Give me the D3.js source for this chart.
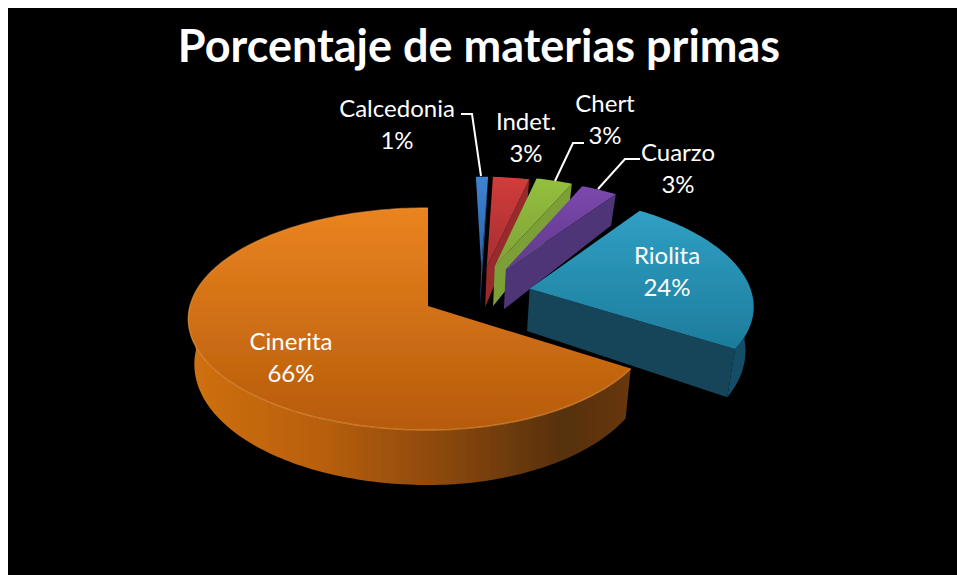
<!DOCTYPE html>
<html lang="en">
<head>
<meta charset="utf-8">
<title>Porcentaje de materias primas</title>
<script src="https://d3js.org/d3.v7.min.js"></script>
<style>
body { margin: 0; background: #fff; }
svg { display: block; }
text { font-family: Lato, "Open Sans", sans-serif; fill: #fff; text-anchor: middle; }
</style>
</head>
<body>
<div id="container"></div>
<script>
var titleText = "Porcentaje de materias primas";
var categories = ["Calcedonia", "Indet.", "Chert", "Cuarzo", "Riolita", "Cinerita"];
var values = [1, 3, 3, 3, 24, 66];

var w = 957, h = 575;
var cx = 428, cy = 306;   // tip of the big slice
var rxLeft = 238, rxRight = 225, ry = 109.5, persp = 0.117;

// slice look: how far it is pulled out (in radius units), then colours
var explode = {
  "Calcedonia": [0.247, -0.37], "Indet.": [0.272, -0.37], "Chert": [0.31, -0.38],
  "Cuarzo": [0.36, -0.35], "Riolita": [0.46, -0.16], "Cinerita": [0, 0]
};
var topColors = {
  "Calcedonia": ["#3f83d2", "#2c62a8"], "Indet.": ["#d23c3c", "#a52e30"], "Chert": ["#94bf3e", "#7ea237"],
  "Cuarzo": ["#7c48ad", "#5f3a8c"], "Riolita": ["#30a0c4", "#1d7c9c"], "Cinerita": ["#ea8420", "#b65b0a"]
};
var wallColors = {
  "Calcedonia": "#24528c", "Indet.": "#97292c", "Chert": "#7d9f38",
  "Cuarzo": "#4d3477", "Riolita": "#15445a", "Cinerita": "url(#wallOrange)"
};
var labelPos = {
  "Calcedonia": [397, 117], "Indet.": [526, 130], "Chert": [605, 112],
  "Cuarzo": [678, 161], "Riolita": [667, 264], "Cinerita": [291, 350]
};
var leaders = {
  "Calcedonia": [[461, 114], [472, 114], [481, 176]],
  "Chert": [[584, 143], [573, 143], [555, 181]],
  "Cuarzo": [[640, 159], [625, 159], [598, 189]]
};

var svg = d3.select("#container").append("svg").attr("width", w).attr("height", h);
svg.append("rect").attr("x", 8).attr("y", 8).attr("width", w - 8).attr("height", h - 8).attr("fill", "#000");

var defs = svg.append("defs");
defs.append("filter").attr("id", "soft").append("feGaussianBlur").attr("stdDeviation", 0.6);

function grad(id, x1, y1, x2, y2, stops) {
  var g = defs.append("linearGradient").attr("id", id).attr("gradientUnits", "userSpaceOnUse")
    .attr("x1", x1).attr("y1", y1).attr("x2", x2).attr("y2", y2);
  stops.forEach(function(s) { g.append("stop").attr("offset", s[0]).attr("stop-color", s[1]); });
}
grad("wallOrange", 190, 0, 630, 0, [[0, "#cf7012"], [0.3, "#b85f0c"], [0.55, "#8f4a0a"], [0.85, "#56300a"], [1, "#683708"]]);

var pie = d3.pie().sort(null).startAngle(0).endAngle(2 * Math.PI);
var arcs = pie(values);

// pie plane -> screen, with a bit of perspective
function project(u, v) {
  var s = 1 / (1 - persp * v);
  return { x: cx + (u < 0 ? rxLeft : rxRight) * u * s, y: cy + ry * v * s, v: v };
}
function lower(p) {
  return { x: p.x - 0.025 * (p.x - cx), y: p.y + 44 + 11 * p.v };
}
function rim(a0, a1, e) {
  var n = Math.max(2, Math.ceil(Math.abs(a1 - a0) / 0.02));
  return d3.range(n + 1).map(function(i) {
    var a = a0 + (a1 - a0) * i / n;
    return project(Math.sin(a) + e[0], -Math.cos(a) + e[1]);
  });
}
var line = d3.line().x(function(d) { return d.x; }).y(function(d) { return d.y; });
function closed(pts) { return line(pts) + "Z"; }
function wall(pts) { return closed(pts.concat(pts.map(lower).reverse())); }

var marks = svg.append("g").attr("filter", "url(#soft)");

arcs.forEach(function(d, i) {
  var name = categories[i];
  var e = explode[name];
  var tip = project(e[0], e[1]);
  var outer = rim(d.startAngle, d.endAngle, e);
  var g = marks.append("g");

  if (name == "Cinerita") {
    // front of the big slice, only the part the camera sees
    g.append("path").attr("d", wall(rim(d.startAngle, 1.5 * Math.PI, e))).attr("fill", wallColors[name]);
  } else {
    g.append("path").attr("d", wall([tip, outer[outer.length - 1]])).attr("fill", wallColors[name]);
    if (name == "Riolita") {
      g.append("path").attr("d", wall(outer.filter(function(p) { return p.v > -0.1; }))).attr("fill", "#174d66");
    }
  }

  var ys = outer.map(function(p) { return p.y; }).concat([tip.y]);
  grad("top" + i, 0, d3.min(ys), 0, d3.max(ys), [[0, topColors[name][0]], [1, topColors[name][1]]]);
  g.append("path").attr("d", closed([tip].concat(outer))).attr("fill", "url(#top" + i + ")");
  if (name == "Cinerita") {
    g.append("path").attr("d", line(outer)).attr("fill", "none").attr("stroke", "#ef9a45").attr("stroke-opacity", 0.55).attr("stroke-width", 1.5);
  }
});

Object.keys(leaders).forEach(function(k) {
  svg.append("path").attr("d", d3.line()(leaders[k])).attr("fill", "none").attr("stroke", "#fff").attr("stroke-width", 2);
});

categories.forEach(function(name, i) {
  var t = svg.append("text").attr("x", labelPos[name][0]).attr("y", labelPos[name][1]).attr("font-size", 24);
  t.append("tspan").attr("x", labelPos[name][0]).text(name);
  t.append("tspan").attr("x", labelPos[name][0]).attr("dy", 32).text(values[i] + "%");
});

svg.append("text").attr("x", 479).attr("y", 62).attr("font-size", 45).attr("font-weight", 700).text(titleText);
</script>
</body>
</html>
